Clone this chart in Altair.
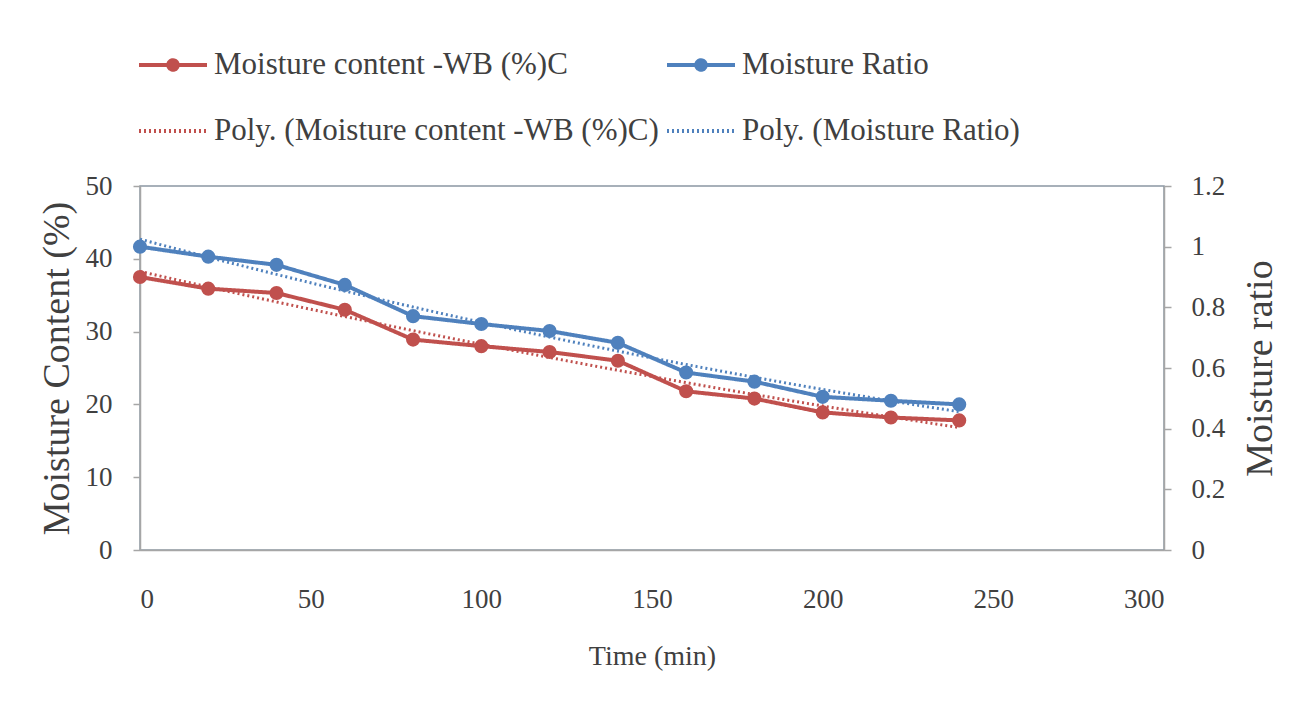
import altair as alt
import pandas as pd

time_min = [0, 20, 40, 60, 80, 100, 120, 140, 160, 180, 200, 220, 240]
moisture_content = [37.5, 35.9, 35.3, 33.0, 28.9, 28.0, 27.2, 26.0, 21.8, 20.8, 18.9, 18.2, 17.8]
moisture_ratio = [1.000, 0.967, 0.940, 0.874, 0.771, 0.745, 0.722, 0.683, 0.585, 0.555, 0.505, 0.492, 0.480]

S_MC = "Moisture content -WB (%)C"
S_MR = "Moisture Ratio"
P_MC = "Poly. (Moisture content -WB (%)C)"
P_MR = "Poly. (Moisture Ratio)"
# legend fills column by column: col 1 = MC, Poly MC; col 2 = MR, Poly MR
series_order = [S_MC, P_MC, S_MR, P_MR]
series_colors = ["#c0504d", "#c0504d", "#4f81bd", "#4f81bd"]
series_dash = [[1, 0], [2, 3], [1, 0], [2, 3]]

df = pd.DataFrame({"t": time_min, "mc": moisture_content, "mr": moisture_ratio})

FONT = "Liberation Serif"
TXT = "#404040"

marker_path = ("M-1,0H1"
               "M0.14,0A0.14,0.14,0,1,1,-0.14,0A0.14,0.14,0,1,1,0.14,0"
               "M0.06,0A0.06,0.06,0,1,1,-0.06,0A0.06,0.06,0,1,1,0.06,0")
shape_expr = "indexof(datum.value, 'Poly') === 0 ? 'stroke' : '" + marker_path + "'"

legend = alt.Legend(
    title=None, orient="none", legendX=-3, legendY=-157, columns=2,
    symbolType=alt.ExprRef(expr=shape_expr), symbolSize=4624, symbolStrokeWidth=4,
    labelFont=FONT, labelFontSize=31, labelColor=TXT, labelLimit=1000,
    labelOffset=5, columnPadding=0, rowPadding=15, padding=0,
)
color = alt.Color("series:N", scale=alt.Scale(domain=series_order, range=series_colors), legend=legend)
dash = alt.StrokeDash("series:N", scale=alt.Scale(domain=series_order, range=series_dash), legend=None)

x = alt.X("t:Q", scale=alt.Scale(domain=[0, 300], nice=False),
          axis=alt.Axis(title="Time (min)", values=[0, 50, 100, 150, 200, 250, 300],
                        ticks=False, labelPadding=36, titlePadding=30, grid=False))

left_scale = alt.Scale(domain=[0, 50], nice=False)
right_scale = alt.Scale(domain=[0, 1.2], nice=False)
left_axis = alt.Axis(title="Moisture Content (%)", orient="left", values=[0, 10, 20, 30, 40, 50],
                     tickSize=7, labelPadding=21, titlePadding=9, grid=False)
right_axis = alt.Axis(title="Moisture ratio", orient="right", values=[0, 0.2, 0.4, 0.6, 0.8, 1.0, 1.2],
                      format="~g", tickSize=7, labelPadding=20, titlePadding=55, titleAngle=270, grid=False)

pt = alt.OverlayMarkDef(filled=True, size=200)

mc_line = alt.Chart(df).transform_calculate(series=f"'{S_MC}'").mark_line(
    strokeWidth=4, point=pt).encode(
    x=x, y=alt.Y("mc:Q", scale=left_scale, axis=left_axis), color=color, strokeDash=dash)
mc_poly = alt.Chart(df).transform_regression("t", "mc", method="poly", order=2, extent=[0, 240]).transform_calculate(
    series=f"'{P_MC}'").mark_line(strokeWidth=3).encode(
    x=x, y=alt.Y("mc:Q", scale=left_scale, axis=left_axis), color=color, strokeDash=dash)

mr_line = alt.Chart(df).transform_calculate(series=f"'{S_MR}'").mark_line(
    strokeWidth=4, point=pt).encode(
    x=x, y=alt.Y("mr:Q", scale=right_scale, axis=right_axis), color=color, strokeDash=dash)
mr_poly = alt.Chart(df).transform_regression("t", "mr", method="poly", order=2, extent=[0, 240]).transform_calculate(
    series=f"'{P_MR}'").mark_line(strokeWidth=3).encode(
    x=x, y=alt.Y("mr:Q", scale=right_scale, axis=right_axis), color=color, strokeDash=dash)

left = alt.layer(mc_line, mc_poly)
right = alt.layer(mr_line, mr_poly)

chart = alt.layer(left, right).resolve_scale(y="independent").properties(
    width=1024, height=364,
    autosize=alt.AutoSizeParams(type="none"),
    padding={"left": 132, "top": 178, "right": 134, "bottom": 151},
    background="white",
).configure_view(stroke="#8a96a3", strokeWidth=1.5).configure_axis(
    labelFont=FONT, labelFontSize=27, labelColor=TXT,
    titleFont=FONT, titleFontSize=38, titleFontWeight="normal", titleColor=TXT,
    domainColor="#a6a6a6", domainWidth=1.5, tickColor="#a6a6a6", tickWidth=1.5,
).configure_axisX(titleFontSize=28)

chart.save("out.html", embed_options={"renderer": "svg", "actions": False})
